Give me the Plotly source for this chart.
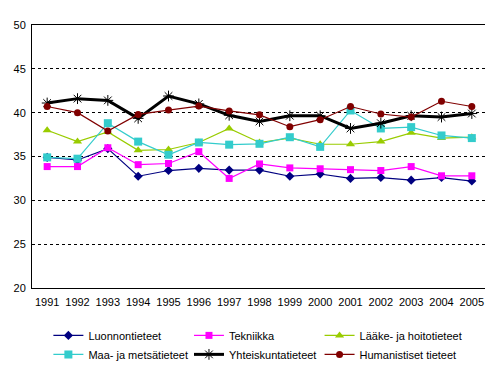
import plotly.graph_objects as go

years = [str(y) for y in range(1991, 2006)]

luonnontieteet = [34.9, 34.6, 35.9, 32.75, 33.4, 33.65, 33.45, 33.45, 32.75, 33.0, 32.5, 32.6, 32.3, 32.6, 32.2]
tekniikka = [33.85, 33.85, 36.0, 34.07, 34.2, 35.55, 32.5, 34.15, 33.7, 33.6, 33.5, 33.4, 33.85, 32.8, 32.8]
laake = [38.0, 36.7, 37.8, 35.7, 35.8, 36.6, 38.2, 36.6, 37.1, 36.4, 36.4, 36.7, 37.7, 37.1, 37.2]
maa = [34.9, 34.75, 38.8, 36.7, 35.2, 36.6, 36.35, 36.45, 37.2, 36.1, 40.25, 38.2, 38.35, 37.4, 37.1]
yhteiskunta = [41.1, 41.6, 41.4, 39.35, 41.9, 41.0, 39.7, 39.0, 39.65, 39.65, 38.2, 38.8, 39.65, 39.5, 39.9]
humanistiset = [40.7, 40.0, 37.9, 39.8, 40.3, 40.75, 40.2, 39.75, 38.4, 39.2, 40.7, 39.85, 39.5, 41.3, 40.7]

# (name, values, color, symbol, size, line width, legend column)
series = [
    ("Luonnontieteet", luonnontieteet, "#000080", "diamond", 7, 1.2, "legend"),
    ("Tekniikka", tekniikka, "#FF00FF", "square", 7, 1.2, "legend2"),
    ("Lääke- ja hoitotieteet", laake, "#99CC00", "triangle-up", 8, 1.2, "legend3"),
    ("Maa- ja metsätieteet", maa, "#33CCCC", "square", 8, 1.2, "legend"),
    ("Yhteiskuntatieteet", yhteiskunta, "#000000", "asterisk-open", 9, 3, "legend2"),
    ("Humanistiset tieteet", humanistiset, "#800000", "circle", 7, 1.2, "legend3"),
]

fig = go.Figure()
for name, vals, color, sym, size, lw, lg in series:
    mk = dict(symbol=sym, size=size, color=color)
    if sym == "asterisk-open":
        mk["line"] = dict(color=color, width=1)
    fig.add_trace(go.Scatter(
        x=years, y=vals, name=name, mode="lines+markers",
        line=dict(color=color, width=lw), marker=mk, legend=lg,
    ))

def leg(x):
    return dict(
        orientation="v", x=x, xanchor="left", y=-0.125, yanchor="top",
        font=dict(size=11), tracegroupgap=0, itemwidth=30,
        bgcolor="rgba(0,0,0,0)",
    )

# page body has an 8px default margin, so the figure is drawn 8px smaller
fig.update_layout(
    width=485, height=364,
    margin=dict(l=24, r=6, t=17, b=84, autoexpand=False),
    paper_bgcolor="white", plot_bgcolor="white",
    font=dict(family="Liberation Sans, Arial, sans-serif", size=11, color="black"),
    showlegend=True,
    legend=leg(0.036),
    legend2=leg(0.345),
    legend3=leg(0.632),
    xaxis=dict(
        type="category", showgrid=False, showline=True, linecolor="black",
        linewidth=1, mirror=True, ticks="outside", ticklen=4,
        tickcolor="rgba(0,0,0,0)", range=[-0.5, 14.5],
        tickfont=dict(size=11), automargin=False,
    ),
    yaxis=dict(
        range=[20, 50], dtick=5, showgrid=True, gridcolor="black",
        griddash="3px,3px", gridwidth=1, showline=True, linecolor="black",
        linewidth=1, mirror=True, ticks="outside", ticklen=3,
        tickcolor="rgba(0,0,0,0)", zeroline=False,
        tickfont=dict(size=11), automargin=False,
    ),
)

fig.write_html("out.html")
